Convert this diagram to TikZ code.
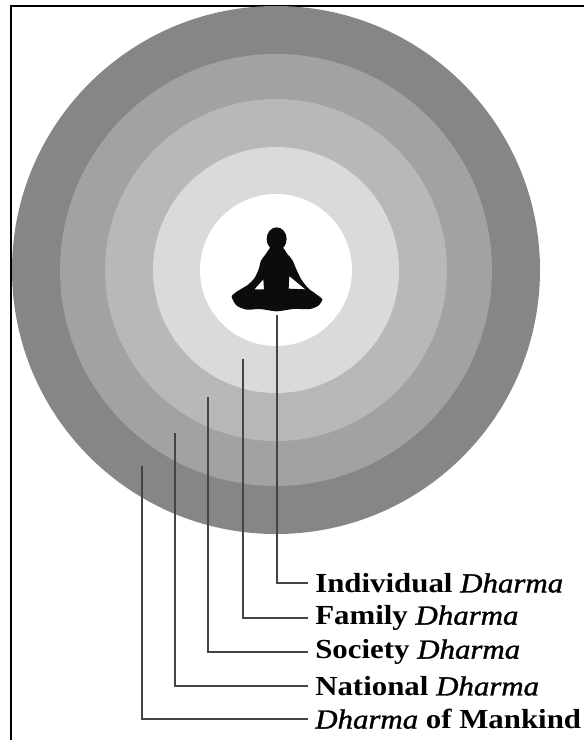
\documentclass[tikz,border=0pt]{standalone}
\usepackage{fontspec}
\setmainfont{Liberation Serif}[FakeStretch=1.12]
\newfontface\dhitalic{Liberation Serif Italic}[FakeStretch=1.12, FakeBold=1.2]
\definecolor{dhouter}{HTML}{868686}
\definecolor{dhnation}{HTML}{A2A2A2}
\definecolor{dhsociety}{HTML}{B8B8B8}
\definecolor{dhfamily}{HTML}{DADADA}
\definecolor{dhline}{HTML}{444444}
\definecolor{dhfigure}{HTML}{0C0C0C}
\usetikzlibrary{positioning}

\begin{document}
\begin{tikzpicture}[x=0.25mm, y=-0.25mm,
  lbl/.style={anchor=west, inner sep=0pt, font=\fontsize{19.6}{22}\selectfont\bfseries},
  leader/.style={draw=dhline, line width=0.64mm},
  frameline/.style={draw=black, line width=0.5mm},
]
  \useasboundingbox (0,0) rectangle (584,740);

  % Frame
  \coordinate (framebl) at (11,740);
  \coordinate (frametl) at (11,5.5);
  \coordinate (frametr) at (584,5.5);
  \draw[frameline] (framebl) -- (frametl) -- (frametr);

  % Rings
  \foreach \rad/\col in {264/dhouter, 216/dhnation, 171/dhsociety, 123/dhfamily, 76/white}
    \fill[\col] (276,270) circle (\rad);

  % Figure
  \begin{scope}[shift={(200,210)}, x=0.25mm/3, y=-0.25mm/3]
    \fill[dhfigure] (230,87) ellipse (30 and 35);
    \fill[dhfigure, even odd rule]
      plot[smooth cycle, tension=0.4] coordinates {(213,112) (196,134) (183,152) (176,178) (163,205)
        (143,225) (110,245) (95,260) (110,287) (140,299) (180,297) (230,304) (280,297)
        (330,297) (355,287) (367,268) (345,250) (325,235) (305,210) (290,180)
        (277,150) (262,132) (247,112)}
      (190,208) -- (163,238) -- (192,238) -- cycle
      (268,198) -- (266,236) -- (316,238) -- cycle;
  \end{scope}

  % Labels
  \node[lbl] (individual) at (315,583) {Individual {\dhitalic Dharma}};
  \node[lbl] (family) at (315,618) {Family {\dhitalic Dharma}};
  \node[lbl] (society) at (315,652) {Society {\dhitalic Dharma}};
  \node[lbl] (national) at (315,686) {National {\dhitalic Dharma}};
  \node[lbl] (mankind) at (315,719) {{\dhitalic Dharma} of Mankind};

  % Leaders
  \coordinate (individualtop) at (277,315);
  \coordinate (familytop) at (243,359);
  \coordinate (societytop) at (208,397);
  \coordinate (nationaltop) at (175,433);
  \coordinate (mankindtop) at (142,466);
  \draw[leader] (individualtop) |- ([xshift=-1.7mm]individual.west);
  \draw[leader] (familytop) |- ([xshift=-1.7mm]family.west);
  \draw[leader] (societytop) |- ([xshift=-1.7mm]society.west);
  \draw[leader] (nationaltop) |- ([xshift=-1.7mm]national.west);
  \draw[leader] (mankindtop) |- ([xshift=-1.7mm]mankind.west);
\end{tikzpicture}
\end{document}
